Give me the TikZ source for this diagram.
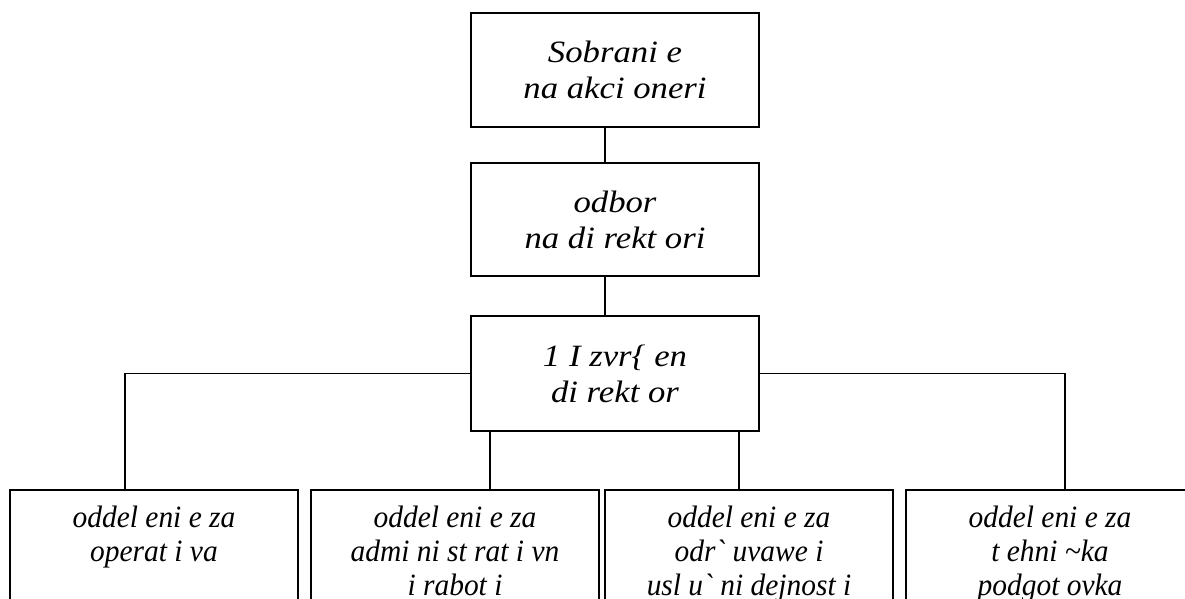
\documentclass[tikz,border=0pt]{standalone}
\usepackage{fontspec}
\setmainfont{Liberation Serif}[Ligatures=TeXOff]
\usepackage{graphicx}
\newcommand{\hst}[1]{\scalebox{1.12}[1]{#1}}
\newcommand{\hsn}[1]{\scalebox{0.95}[1]{#1}}
\begin{document}
\begin{tikzpicture}[x=1pt,y=-1pt,
  box/.style={draw, line width=2pt, minimum width=288pt, inner sep=0pt, align=center,
              font=\fontsize{31}{36}\selectfont\itshape},
  lowbox/.style={draw, line width=2.2pt, minimum width=288pt, minimum height=160pt, anchor=north},
  lbl/.style={anchor=north, align=center, inner sep=0pt, font=\fontsize{31}{34}\selectfont\itshape},
  conn/.style={line width=1.3pt}]
\useasboundingbox (0,0) rectangle (1185,598);
\fill[white] (0,0) rectangle (1185,598);
\clip (0,0) rectangle (1185,598);

\node[box, minimum height=114pt] (b1) at (615,70) {\hst{Sobrani e}\\\hst{na akci oneri}};
\node[box, minimum height=113pt] (b2) at (615,219.5) {\hst{odbor}\\\hst{na di rekt ori}};
\node[box, minimum height=115pt] (b3) at (615,373.5) {\hst{1 I zvr\{ en}\\\hst{di rekt or}};

\node[lowbox] (dA) at (154,489) {};
\node[lowbox] (dB) at (455,489) {};
\node[lowbox] (dC) at (749,489) {};
\node[lowbox] (dD) at (1050,489) {};

\node[lbl] (tA) at ([yshift=-17pt]dA.north) {\hsn{oddel eni e za}\\\hsn{operat i va}};
\node[lbl] (tB) at ([yshift=-17pt]dB.north) {\hsn{oddel eni e za}\\\hsn{admi ni st rat i vn}\\\hsn{i rabot i}};
\node[lbl] (tC) at ([yshift=-17pt]dC.north) {\hsn{oddel eni e za}\\\hsn{odr\symbol{96} uvawe i}\\\hsn{usl u\symbol{96} ni dejnost i}};
\node[lbl] (tD) at ([yshift=-17pt]dD.north) {\hsn{oddel eni e za}\\\hsn{t ehni \symbol{126}ka}\\\hsn{podgot ovka}};

\draw[conn] ([xshift=-10pt]b1.south) -- ([xshift=-10pt]b2.north);
\draw[conn] ([xshift=-10pt]b2.south) -- ([xshift=-10pt]b3.north);
\draw[conn] (b3.west) -| ([xshift=-29pt]dA.north);
\draw[conn] (b3.east) -| ([xshift=15pt]dD.north);
\draw[conn] ([xshift=35pt]dB.north) -- ([xshift=35pt]dB.north |- b3.south);
\draw[conn] ([xshift=-10pt]dC.north) -- ([xshift=-10pt]dC.north |- b3.south);
\end{tikzpicture}
\end{document}
